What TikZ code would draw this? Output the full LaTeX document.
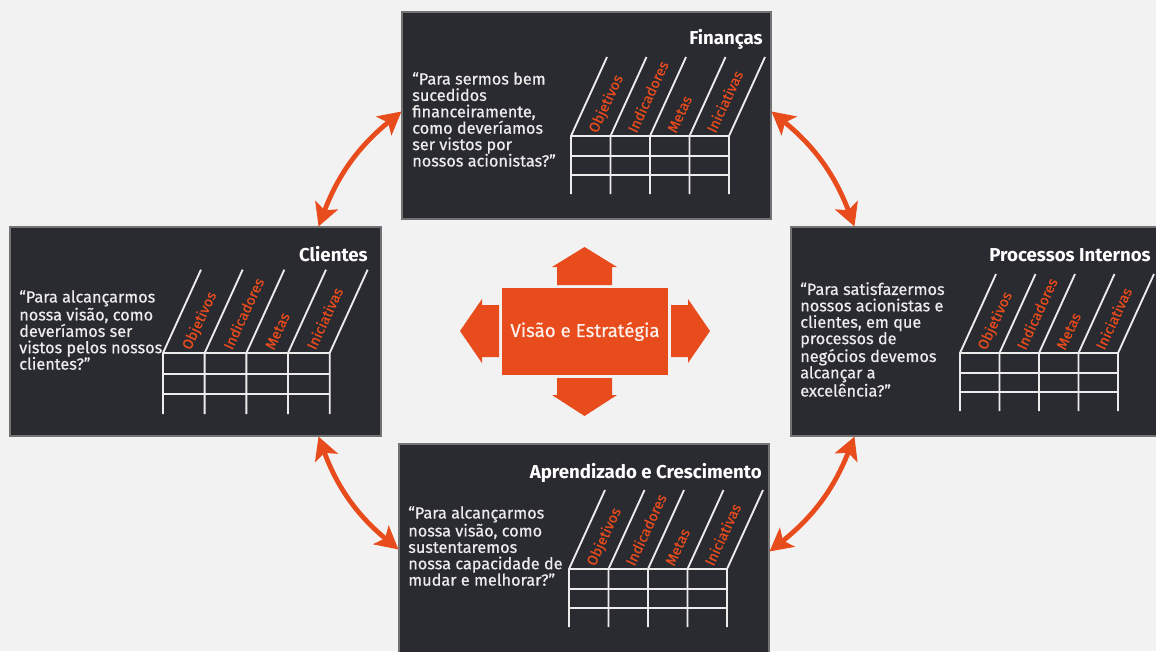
\documentclass[tikz,border=0pt]{standalone}
\usepackage{fontspec}
\setmainfont{Fira Sans}
\newfontfamily\medfont{Fira Sans}[FakeBold=0.6]
\usetikzlibrary{arrows.meta,fit,calc}
\definecolor{bgc}{HTML}{F2F2F2}
\definecolor{boxc}{HTML}{2A2A31}
\definecolor{orc}{HTML}{E84C1C}
\definecolor{txc}{HTML}{ECECEC}
\tikzset{
  panel/.style={fill=boxc, draw=black!55, line width=0.8pt, inner sep=0pt},
  qtext/.style={text=txc, align=left, font=\medfont\fontsize{12.2}{12.3}\selectfont, inner sep=0pt, anchor=north west},
  ptitle/.style={text=white, font=\bfseries\fontsize{14}{16}\selectfont, inner sep=0pt, anchor=base east},
  glab/.style={text=orc, font=\medfont\fontsize{10.8}{12}\selectfont, rotate=65, anchor=base west, inner sep=0pt},
  gline/.style={draw=txc, line width=1.4pt},
  biarrow/.style={draw=orc, line width=3.6pt, {Stealth[length=17pt,width=18pt,inset=4pt]}-{Stealth[length=17pt,width=18pt,inset=4pt]}},
  blockarrow/.style={fill=orc, draw=none},
  vislabel/.style={text=white!92!orc, font=\medfont\fontsize{14}{16}\selectfont, inner sep=0pt},
}
\newcommand{\bscgrid}[4]{%
  \begin{scope}[shift={(#1,#2)}, scale=#3]
    \foreach \gx in {0,39.5,79,118.5,158} {\draw[gline] (\gx,58) -- (\gx,0) -- (\gx+36,-79);}
    \foreach \gy in {0,20,39} {\draw[gline] (0,\gy) -- (158,\gy);}
    \node[glab] (#4o) at (26,-2) {Objetivos};
    \node[glab] (#4i) at (65.5,-2) {Indicadores};
    \node[glab] (#4m) at (105,-2) {Metas};
    \node[glab] (#4n) at (144.5,-2) {Iniciativas};
  \end{scope}}
\begin{document}
\begin{tikzpicture}[x=0.75pt, y=-0.75pt]
\useasboundingbox (0,0) rectangle (1156,651);
\clip (0,0) rectangle (1156,651);
\fill[bgc] (0,0) rectangle (1156,651);

% panels
\node[panel, fit={(402,12) (771,219)}] (fin) {};
\node[panel, fit={(10,227) (381,436)}] (cli) {};
\node[panel, fit={(791,227) (1162,436)}] (pro) {};
\node[panel, fit={(399,444) (769,662)}] (apr) {};

% Finanças
\node[ptitle] (fint) at (763,44) {Finanças};
\node[qtext] (finq) at (412,72) {“Para sermos bem\\sucedidos\\financeiramente,\\como deveríamos\\ser vistos por\\nossos acionistas?”};
\bscgrid{571}{136}{1}{fin}

% Clientes
\node[ptitle] (clit) at (368,261) {Clientes};
\node[qtext] (cliq) at (19,290) {“Para alcançarmos\\nossa visão, como\\deveríamos ser\\vistos pelos nossos\\clientes?”};
\bscgrid{163}{353}{1.055}{cli}

% Processos Internos
\node[ptitle] (prot) at (1151,261) {Processos Internos};
\node[qtext] (proq) at (800,282) {“Para satisfazermos\\nossos acionistas e\\clientes, em que\\processos de\\negócios devemos\\alcançar a\\excelência?”};
\bscgrid{960}{353}{1}{pro}

% Aprendizado e Crescimento
\node[ptitle] (aprt) at (762,478) {Aprendizado e Crescimento};
\node[qtext] (aprq) at (408,506) {“Para alcançarmos\\nossa visão, como\\sustentaremos\\nossa capacidade de\\mudar e melhorar?”};
\bscgrid{569}{569}{1}{apr}

% centre
\node[fill=orc, inner sep=0pt, fit={(502,288) (668,375)}] (vis) {};
\node[vislabel] (vist) at (vis.center) {Visão e Estratégia};
\fill[blockarrow] (557,285) -- (557,267) -- (552,267) -- (584.5,247) -- (617,267) -- (612,267) -- (612,285) -- cycle;
\fill[blockarrow] (557,378) -- (557,395) -- (552,395) -- (584.5,416) -- (617,395) -- (612,395) -- (612,378) -- cycle;
\fill[blockarrow] (499,305) -- (482,305) -- (482,299) -- (460,331) -- (482,363) -- (482,357) -- (499,357) -- cycle;
\fill[blockarrow] (671,305) -- (688,305) -- (688,299) -- (710,331) -- (688,363) -- (688,357) -- (671,357) -- cycle;

% connectors
\draw[biarrow] ($(cli.north east)+(-63,0)$) to[bend left=15] ($(fin.west)+(0,-4)$);
\draw[biarrow] ($(fin.east)+(0,-4)$) to[bend left=15] ($(pro.north west)+(64,0)$);
\draw[biarrow] ($(cli.south east)+(-63,0)$) to[bend right=15] ($(apr.north west)+(0,106)$);
\draw[biarrow] ($(pro.south west)+(64,0)$) to[bend left=15] ($(apr.north east)+(0,108)$);
\end{tikzpicture}
\end{document}
